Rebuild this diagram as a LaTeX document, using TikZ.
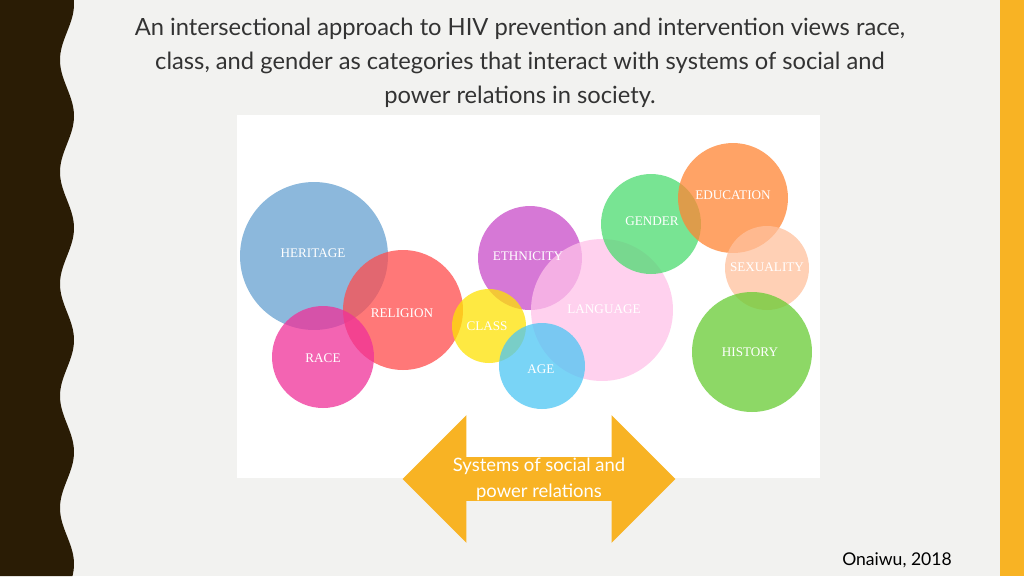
\documentclass[tikz,border=0pt]{standalone}
\usepackage{fontspec}
\setmainfont{Lato}
\usetikzlibrary{positioning,shapes.arrows}
\definecolor{bgcol}{HTML}{F2F2F0}
\definecolor{darkbrown}{HTML}{2A1C05}
\definecolor{goldbar}{HTML}{F8B324}
\tikzset
{
    bubble/.style = {circle, fill=#1, fill opacity=0.75, draw=none, inner sep=0pt},
    tag/.style    = {text=white, font=\fontsize{7.5}{9}\selectfont\fontspec{Liberation Serif}},
    titletext/.style = {align=center, font=\fontsize{13.5}{19.5}\selectfont, text=black!80},
}
\begin{document}
\begin{tikzpicture}[x=0.02cm, y=-0.02cm]
	\useasboundingbox (0,0) rectangle (1024,576);
	\fill[bgcol] (0,0) rectangle (1024,576);
	\fill[darkbrown] (0,0) -- plot[domain=0:576, samples=120, smooth] ({67-7*cos(3.214*(\x-60))}, \x) -- (0,576) -- cycle;
	\fill[goldbar] (1000,0) rectangle (1024,576);

	\node (title) [titletext] at (520,63) {An intersectional approach to HIV prevention and intervention views race,\\ class, and gender as categories that interact with systems of social and\\ power relations in society.};

	\fill[white] (237,115) rectangle (820,478);

	% bubbles, drawn back to front
	\node (heritage)  [bubble={blue!45!cyan!70!black!60}, minimum size=2.96cm] at (314,256) {};
	\node (religion)  [bubble={red!60!pink}, minimum size=2.4cm] at (403,310) {};
	\node (race)      [bubble={magenta!75!pink}, minimum size=2.04cm] at (323,357) {};
	\node (ethnicity) [bubble={violet!60!magenta!70}, minimum size=2.08cm] at (530,258) {};
	\node (class)     [bubble={yellow!85!orange}, minimum size=1.48cm] at (489,326) {};
	\node (language)  [bubble={pink!70!magenta!50}, minimum size=2.84cm] at (602,310) {};
	\node (age)       [bubble={cyan!70}, minimum size=1.72cm] at (542,366) {};
	\node (gender)    [bubble={green!60!teal!70}, minimum size=2.0cm] at (651,224) {};
	\node (education) [bubble={orange!80!red!80}, minimum size=2.2cm] at (733,198) {};
	\node (sexuality) [bubble={orange!40!pink!70}, minimum size=1.68cm] at (767,268) {};
	\node (history)   [bubble={green!55!lime!75!black!80}, minimum size=2.4cm] at (752,352) {};

	\node [tag] at (313,253) {HERITAGE};
	\node [tag] at (402,313) {RELIGION};
	\node [tag] at (323,358) {RACE};
	\node [tag] at (528,256) {ETHNICITY};
	\node [tag] at (487,326) {CLASS};
	\node [tag] at (604,309) {LANGUAGE};
	\node [tag] at (541,369) {AGE};
	\node [tag] at (652,221) {GENDER};
	\node [tag] at (733,195) {EDUCATION};
	\node [tag] at (767,267) {SEXUALITY};
	\node [tag] at (750,352) {HISTORY};

	\node (systems) [double arrow, fill=goldbar, double arrow head extend=0.84cm, minimum height=5.46cm, minimum width=1.76cm, inner sep=0pt, align=center, font=\fontsize{10.5}{15}\selectfont, text=white] at (539,479) {Systems of social and\\ power relations};

	\node (cite) [font=\fontsize{10}{12}\selectfont, text=black] at (897,560) {Onaiwu, 2018};
\end{tikzpicture}
\end{document}
